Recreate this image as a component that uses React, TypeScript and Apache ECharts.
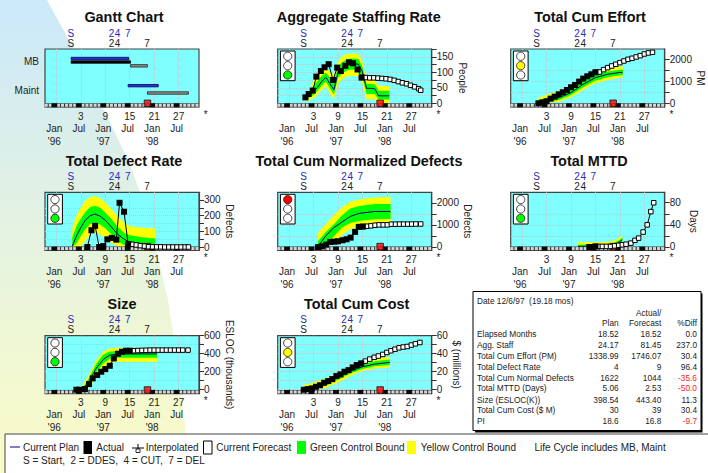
import React, { useEffect, useRef } from "react";
import * as echarts from "echarts";

const FONT = "Liberation Sans";
const TEXT = "#222222";

// ---- shared axis content ----
const numberTicks = [-3, 3, 9, 15, 21, 27];
const numberValues = [3, 9, 15, 21, 27];
const monthValues = [-3.5, 2.5, 8.5, 14.5, 20.5, 26.5];
const monthLabels = ["Jan", "Jul", "Jan", "Jul", "Jan", "Jul"];
const yearValues = [-3.5, 8.5, 20.5];
const yearLabels = ["'96", "'97", "'98"];
const milestoneLabels = ["S", "2", "4", "7"];
const planMilestones = [0.55, 10.5, 12.0, 14.5];
const actualMilestones = [0.55, 10.5, 12.0, 19.25];
const stripCells = [-5.5, -4.5, -2.5, -1.5, -0.5, 0.5, 1.5, 3.5, 4.5, 5.5, 6.5, 7.5, 9.5, 10.5, 11.5, 12.5, 13.5, 15.5, 16.5, 17.5, 18.5, 19.5, 21.5, 22.5, 23.5, 24.5, 25.5, 27.5, 28.5, 29.5, 30.5, 31.5];
const stripBlack = [-3.5, 2.5, 8.5, 14.5, 20.5, 26.5];
const statusMonth = 19.35;

// ---- Gantt ----
const ganttRows = ["MB", "Maint"];
const ganttRowValues = [1.53, 0.49];
const ganttPlan = [[0.62, 14.76, 1.65], [14.6, 22.0, 0.65]];
const ganttActual = [[0.62, 15.2, 1.52]];
const ganttForecast = [[15.2, 19.35, 1.38], [19.35, 29.4, 0.38]];

// ---- Aggregate Staffing Rate ----
const staffBandMonths = [1, 2, 3, 4, 5, 6, 7, 8, 9, 10, 11, 12, 13, 14, 15, 16, 17, 18, 19, 20, 21, 21.6];
const staffPlan = [14, 27, 38, 52, 70, 84, 64, 43, 99, 113, 123, 127, 127, 126, 102, 48, 48, 47, 24, 24, 24, 24];
const staffYellowHi = [25, 43, 75, 91, 105, 113, 102, 91, 134, 150, 159, 160, 160, 159, 134, 75, 75, 74, 56, 56, 56, 56];
const staffGreenHi = [20, 36, 58, 72, 88, 99, 84, 68, 117, 132, 142, 144, 144, 143, 118, 62, 62, 61, 40, 40, 40, 40];
const staffGreenLo = [10, 19, 27, 40, 57, 70, 48, 28, 82, 95, 105, 108, 108, 107, 83, 30, 30, 30, 12, 12, 12, 12];
const staffYellowLo = [5, 11, 16, 29, 43, 56, 32, 13, 64, 77, 86, 88, 88, 88, 64, 13, 13, 13, 0, 0, 0, 0];
const staffActualMonths = [1, 1.8, 2.8, 3.7, 4.8, 5.7, 6.7, 7.8, 8.8, 9.7, 10.8, 11.7, 12.7, 13.8, 14.8];
const staffActual = [19, 30, 41, 86, 104, 116, 126, 75, 115, 104, 121, 132, 129, 109, 83];
const staffForecastMonths = [15.8, 16.8, 17.8, 18.8, 19.8, 20.8, 21.8, 22.8, 23.8, 24.8, 25.8, 26.8, 27.8, 28.8, 29.3];
const staffForecast = [83, 82, 82, 81, 80, 79, 77, 74, 70, 66, 63, 58, 53, 47, 42];

// ---- Total Cum Effort ----
const effortBandMonths = [1, 3, 6, 9, 12, 15, 18, 21, 21.7];
const effortPlan = [30, 121, 258, 485, 864, 1167, 1320, 1400, 1410];
const effortYellowHi = [258, 380, 576, 788, 1182, 1470, 1590, 1667, 1667];
const effortGreenHi = [130, 250, 417, 640, 1025, 1320, 1450, 1530, 1540];
const effortGreenLo = [0, 30, 150, 380, 730, 1020, 1180, 1270, 1280];
const effortYellowLo = [0, 0, 76, 273, 606, 909, 1060, 1167, 1182];
const effortActualMonths = [1, 2, 3, 4, 5, 6, 7, 8, 9, 10, 11, 12, 13, 14, 15];
const effortActual = [0, 45, 91, 212, 303, 409, 500, 606, 727, 833, 985, 1121, 1227, 1318, 1409];
const effortForecastMonths = [16, 17, 18, 19, 20, 21, 22, 23, 24, 25, 26, 27, 28, 29];
const effortForecast = [1424, 1530, 1621, 1697, 1773, 1848, 1924, 2000, 2045, 2106, 2166, 2242, 2288, 2318];

// ---- Total Defect Rate ----
const defectBandMonths = [0.9, 2, 3, 4, 5.2, 6.4, 7.6, 9, 10.5, 12.1, 13.8, 15, 17.4, 21.3];
const defectPlan = [6, 75, 124, 167, 199, 210, 199, 171, 128, 79, 47, 32, 21, 15];
const defectYellowHi = [124, 203, 252, 293, 317, 325, 315, 285, 242, 193, 150, 133, 124, 118];
const defectGreenHi = [60, 139, 182, 220, 253, 263, 253, 220, 178, 128, 86, 75, 64, 54];
const defectGreenLo = [0, 25, 70, 110, 145, 155, 145, 120, 80, 35, 10, 0, 0, 0];
const defectYellowLo = [0, 0, 5, 35, 80, 95, 85, 55, 25, 5, 0, 0, 0, 0];
const defectActualMonths = [4.6, 5.6, 6.5, 7.5, 8.5, 9.5, 10.6, 11.7, 12.5, 13.6, 14.6];
const defectActual = [0, 107, 135, 0, 6, 49, 58, 47, 282, 225, 17];
const defectForecastMonths = [15.6, 16.6, 17.6, 18.6, 19.6, 20.6, 21.6, 22.6, 23.6, 24.6, 25.6, 26.6, 27.6, 28.6, 29.4];
const defectForecast = [17, 13, 9, 6, 2, 1, 1, 1, 0, 0, 0, 0, 0, 0, 0];

// ---- Total Cum Normalized Defects ----
const normBandMonths = [4.1, 6, 8, 10, 12, 14.2, 18, 21.9];
const normPlan = [30, 500, 880, 1130, 1380, 1520, 1606, 1606];
const normYellowHi = [636, 1030, 1439, 1788, 2045, 2151, 2242, 2257];
const normGreenHi = [273, 682, 1030, 1439, 1742, 1848, 1939, 1939];
const normGreenLo = [0, 76, 485, 880, 1090, 1180, 1250, 1260];
const normYellowLo = [0, 0, 150, 550, 800, 950, 1090, 1090];
const normActualMonths = [4.1, 5.1, 6.1, 7.1, 8.1, 9, 10.1, 11.1, 12.1, 13.2, 14.1, 15.1];
const normActual = [0, 30, 106, 227, 242, 258, 303, 348, 424, 682, 909, 924];
const normForecastMonths = [16.1, 17.1, 18.1, 19.1, 20.1, 21.1, 22.1, 23.1, 24.1, 25.1, 26.1, 27.1, 28.1, 29.3];
const normForecast = [939, 955, 985, 1000, 1000, 1000, 1030, 1030, 1035, 1035, 1035, 1035, 1040, 1040];

// ---- Total MTTD ----
const mttdBandMonths = [10.7, 16.9, 19.3, 20.5, 21.6];
const mttdPlan = [1, 2, 4, 7, 13];
const mttdYellowHi = [8.5, 8.5, 11, 15, 20];
const mttdGreenHi = [4, 5, 7, 11, 17];
const mttdGreenLo = [0, 0, 0, 1, 3];
const mttdYellowLo = [0, 0, 0, 0, 0];
const mttdActualMonths = [13.5, 14.2, 15];
const mttdActual = [0, 0, 1];
const mttdForecastMonths = [15.7, 16.7, 17.7, 18.7, 19.7, 20.7, 21.6, 22.5, 23.7, 24.7, 25.6, 26.7, 27.7, 28.6, 29.3];
const mttdForecast = [1, 1, 1, 1, 2, 3, 4, 5, 7, 12, 16, 27, 40, 64, 80];

// ---- Size ----
const sizeBandMonths = [3.4, 5, 6.8, 8.5, 10.1, 12.1, 15, 21.7];
const sizePlan = [0, 90, 240, 335, 385, 395, 397, 398];
const sizeYellowHi = [52, 163, 329, 422, 459, 466, 466, 466];
const sizeGreenHi = [20, 130, 290, 390, 425, 430, 425, 420];
const sizeGreenLo = [0, 60, 195, 290, 345, 355, 355, 355];
const sizeYellowLo = [0, 20, 150, 250, 300, 311, 311, 311];
const sizeActualMonths = [1.9, 2.6, 4, 5, 5.9, 7, 8, 9, 10.1, 11.1, 12.1, 13.1, 14.1, 15];
const sizeActual = [0, 0, 7, 63, 126, 163, 200, 229, 266, 348, 400, 422, 433, 433];
const sizeForecastMonths = [16, 17, 18, 19, 20, 21, 22, 23, 24, 25, 26, 27, 28, 29.3];
const sizeForecast = [433, 435, 437, 438, 440, 440, 440, 440, 440, 440, 440, 440, 440, 440];

// ---- Total Cum Cost ----
const costBandMonths = [0.6, 3, 6, 9, 12, 15, 18, 21.7];
const costPlan = [0.7, 2.6, 7, 13.7, 20.7, 25.5, 28.5, 30.3];
const costYellowHi = [5.2, 7.8, 12.6, 18.9, 25.5, 31, 34.8, 36.6];
const costGreenHi = [2, 5, 9.6, 16, 23, 28, 31.5, 33.5];
const costGreenLo = [0, 0.5, 4.5, 11, 18, 23, 26, 27.5];
const costYellowLo = [0, 0, 2, 8, 15, 21, 23.5, 24.7];
const costActualMonths = [0.6, 1.6, 2.6, 3.6, 4.6, 5.6, 6.6, 7.6, 8.6, 9.6, 10.6, 11.6, 12.6, 13.6, 14.7];
const costActual = [0, 0.7, 1.5, 3.3, 5, 7.8, 9.6, 11.8, 15.2, 17, 20, 21.8, 24.8, 27.4, 29.2];
const costForecastMonths = [15.7, 16.8, 17.9, 18.9, 20, 21, 22, 23, 24, 25, 26, 27, 28, 29.1];
const costForecast = [31.8, 34, 36, 37.4, 39.2, 41.4, 43.3, 45, 46.6, 47.4, 48, 49.6, 51, 52.5];

// ---- Status table ----
const tableLabels = ["Elapsed Months", "Agg. Staff", "Total Cum Effort (PM)", "Total Defect Rate", "Total Cum Normal Defects", "Total MTTD (Days)", "Size (ESLOC(K))", "Total Cum Cost ($ M)", "PI"];
const tablePlan = ["18.52", "24.17", "1338.99", "4", "1622", "5.06", "398.54", "30", "18.6"];
const tableForecast = ["18.52", "81.45", "1746.07", "9", "1044", "2.53", "443.40", "39", "16.8"];
const tableDiff = ["0.0", "237.0", "30.4", "96.4", "-35.6", "-50.0", "11.3", "30.4", "-9.7"];
const tableRowY = [334.3, 345, 356, 367, 378, 388.3, 400, 410.3, 421];

const PLOT_W = 154;
const PLOT_H = 58;
const X_MIN = -5.8;
const X_MAX = 32;
const COLS = [45, 277.7, 510.7];
const ROWS = [49, 192.3, 335.7];

const chartPanels = [
  { title: "Aggregate Staffing Rate", cx: 358.7, col: 1, row: 0, min: -12, max: 175, ticks: [0, 25, 50, 75, 100, 125, 150, 175], labels: [0, 50, 100, 150], name: "People", gap: 20, light: 2,
    months: staffBandMonths, plan: staffPlan, yHi: staffYellowHi, gHi: staffGreenHi, gLo: staffGreenLo, yLo: staffYellowLo, aM: staffActualMonths, a: staffActual, fM: staffForecastMonths, f: staffForecast },
  { title: "Total Cum Effort", cx: 590, col: 2, row: 0, min: -168, max: 2468, ticks: [0, 500, 1000, 1500, 2000], labels: [0, 1000, 2000], name: "PM", gap: 23, light: 1,
    months: effortBandMonths, plan: effortPlan, yHi: effortYellowHi, gHi: effortGreenHi, gLo: effortGreenLo, yLo: effortYellowLo, aM: effortActualMonths, a: effortActual, fM: effortForecastMonths, f: effortForecast },
  { title: "Total Defect Rate", cx: 124, col: 0, row: 1, min: -21, max: 349, ticks: [0, 50, 100, 150, 200, 250, 300], labels: [0, 100, 200, 300], name: "Defects", gap: 21, light: 2,
    months: defectBandMonths, plan: defectPlan, yHi: defectYellowHi, gHi: defectGreenHi, gLo: defectGreenLo, yLo: defectYellowLo, aM: defectActualMonths, a: defectActual, fM: defectForecastMonths, f: defectForecast },
  { title: "Total Cum Normalized Defects", cx: 359, col: 1, row: 1, min: -150, max: 2473, ticks: [0, 500, 1000, 1500, 2000], labels: [0, 1000, 2000], name: "Defects", gap: 27, light: 0,
    months: normBandMonths, plan: normPlan, yHi: normYellowHi, gHi: normGreenHi, gLo: normGreenLo, yLo: normYellowLo, aM: normActualMonths, a: normActual, fM: normForecastMonths, f: normForecast },
  { title: "Total MTTD", cx: 589, col: 2, row: 1, min: -6, max: 98.9, ticks: [0, 20, 40, 60, 80], labels: [0, 40, 80], name: "Days", gap: 24, light: 2,
    months: mttdBandMonths, plan: mttdPlan, yHi: mttdYellowHi, gHi: mttdGreenHi, gLo: mttdGreenLo, yLo: mttdYellowLo, aM: mttdActualMonths, a: mttdActual, fM: mttdForecastMonths, f: mttdForecast },
  { title: "Size", cx: 122, col: 0, row: 2, min: -44, max: 600, ticks: [0, 100, 200, 300, 400, 500, 600], labels: [0, 200, 400, 600], name: "ESLOC (thousands)", gap: 20, light: 2,
    months: sizeBandMonths, plan: sizePlan, yHi: sizeYellowHi, gHi: sizeGreenHi, gLo: sizeGreenLo, yLo: sizeYellowLo, aM: sizeActualMonths, a: sizeActual, fM: sizeForecastMonths, f: sizeForecast },
  { title: "Total Cum Cost", cx: 356.7, col: 1, row: 2, min: -4.4, max: 60, ticks: [0, 10, 20, 30, 40, 50, 60], labels: [0, 20, 40, 60], name: "$ (millions)", gap: 15, light: 1,
    months: costBandMonths, plan: costPlan, yHi: costYellowHi, gHi: costGreenHi, gLo: costGreenLo, yLo: costYellowLo, aM: costActualMonths, a: costActual, fM: costForecastMonths, f: costForecast },
];

const pts = (xs: number[], ys: number[]) => xs.map((x, i) => [x, ys[i]]);

function textStyle(size = 10, color = TEXT) {
  return { fontFamily: FONT, fontSize: size, color };
}

function buildOption() {
  const grid: any[] = [];
  const xAxis: any[] = [];
  const yAxis: any[] = [];
  const series: any[] = [];
  const title: any[] = [];
  const graphic: any[] = [];

  const gt = (x: number, y: number, text: string, align = "left", size = 10, fill = TEXT, weight = "normal") => ({
    type: "text", x, y, z: 60,
    style: { text, fill, fontFamily: FONT, fontSize: size, fontWeight: weight, textAlign: align, textVerticalAlign: "middle" },
  });
  const titleOf = (text: string, cx: number, top: number) => ({
    text, left: cx, top: top - 38.6, padding: 0, textAlign: "center",
    textStyle: { fontFamily: FONT, fontSize: 14.4, fontWeight: "bold", color: "#111" },
  });
  const gridLine = { show: true, showMaxLine: false, lineStyle: { type: "dotted", color: "#c9c4c4", width: 1 } };

  // page background wedge
  graphic.push({
    type: "polygon", z: -10, silent: true,
    shape: { points: [[0, 0], [47, 0], [85, 70], [128, 160], [143, 200], [157, 253], [168, 300], [174, 340], [181, 390], [185, 425], [186, 473], [0, 473]] },
    style: { fill: new echarts.graphic.LinearGradient(0, 0, 0, 1, [
      { offset: 0, color: "#cbe9fa" }, { offset: 0.33, color: "#dcefe9" }, { offset: 0.66, color: "#ecf6d8" }, { offset: 1, color: "#fafbc6" },
    ]) },
  });

  const addFrame = (i: number, col: number, row: number, yCfg: any) => {
    const left = COLS[col];
    const top = ROWS[row];
    grid.push({ left, top, width: PLOT_W, height: PLOT_H, show: true, backgroundColor: "#80ffff", borderColor: "#444444", borderWidth: 1.2, z: 0 });
    const xBase = { gridIndex: i, type: "value", min: X_MIN, max: X_MAX, splitLine: { show: false }, axisLine: { show: false }, axisTick: { show: false } };
    const rowAxis = (position: string, values: number[], labels: string[], margin: number, offset: number, color = TEXT) => ({
      ...xBase, position, offset,
      axisLabel: { customValues: values, margin, formatter: (v: number) => labels[values.indexOf(v)] ?? "", ...textStyle(10, color) },
    });
    xAxis.push({
      ...xBase, position: "bottom",
      axisTick: { show: true, customValues: numberTicks, length: 3, lineStyle: { color: "#333", width: 1 } },
      splitLine: { show: true, lineStyle: { type: "dotted", color: "#c9c4c4", width: 1 } },
      axisLabel: { customValues: numberValues, margin: 4, formatter: (v: number) => String(v), ...textStyle() },
    });
    xAxis.push(rowAxis("bottom", monthValues, monthLabels, 4, 12));
    xAxis.push(rowAxis("bottom", yearValues, yearLabels, 4, 25));
    xAxis.push(rowAxis("top", planMilestones, milestoneLabels, 1, 10, "#2a2ab4"));
    xAxis.push(rowAxis("top", actualMilestones, milestoneLabels, 1, 0));
    yAxis.push(yCfg);
    yAxis.push({ gridIndex: i, type: "value", show: false, min: 0, max: 1, splitLine: { show: false } });

    const xi = i * 5;
    const yi = i * 2;
    return { xi, yi, left, top };
  };

  const addStrip = (xi: number, yStrip: number) => {
    const common = { xAxisIndex: xi, yAxisIndex: yStrip, silent: true, animation: false };
    series.push({ ...common, type: "line", data: [[X_MIN, 0.03], [X_MAX, 0.03]], symbol: "none", lineStyle: { color: "#333", width: 4 }, z: 6 });
    series.push({ ...common, type: "scatter", data: stripCells.map((c) => [c, 0.03]), symbol: "rect", symbolSize: 3, itemStyle: { color: "#fff" }, z: 7 });
    series.push({ ...common, type: "scatter", data: stripBlack.map((c) => [c, 0.03]), symbol: "rect", symbolSize: [6, 4], itemStyle: { color: "#000" }, z: 7 });
    series.push({ ...common, type: "scatter", data: [[statusMonth, 0.064]], symbol: "rect", symbolSize: 6.5, itemStyle: { color: "#ff0000", borderColor: "#111", borderWidth: 1 }, z: 8 });
  };

  // Gantt
  const g = addFrame(0, 0, 0, {
    gridIndex: 0, type: "value", position: "left", min: -0.136, max: 2,
    axisLine: { show: false },
    axisTick: { show: false, customValues: [1] },
    splitLine: gridLine,
    axisLabel: { customValues: ganttRowValues, margin: 6, formatter: (v: number) => ganttRows[ganttRowValues.indexOf(v)] ?? "", ...textStyle() },
  });
  title.push(titleOf("Gantt Chart", 124, ROWS[0]));
  const ganttSeries = (data: number[][], fill: string, stroke: string) => ({
    type: "custom", xAxisIndex: g.xi, yAxisIndex: g.yi, silent: true, z: 4, data,
    renderItem: (_p: any, api: any) => {
      const a = api.coord([api.value(0), api.value(2)]);
      const b = api.coord([api.value(1), api.value(2)]);
      return { type: "rect", shape: { x: a[0], y: a[1] - 1.2, width: b[0] - a[0], height: 2.4 }, style: { fill, stroke, lineWidth: 0.8 } };
    },
    encode: { x: [0, 1], y: 2 },
  });
  series.push(ganttSeries(ganttPlan, "#3030d0", "#000060"));
  series.push(ganttSeries(ganttActual, "#000000", "#000000"));
  series.push(ganttSeries(ganttForecast, "#909090", "#222222"));
  addStrip(g.xi, g.yi + 1);
  graphic.push(gt(COLS[0] + PLOT_W + 4.7, ROWS[0] + 65, "*"));

  // metric panels
  chartPanels.forEach((p, n) => {
    const i = n + 1;
    const { xi, yi, left, top } = addFrame(i, p.col, p.row, {
      gridIndex: i, type: "value", position: "right", min: p.min, max: p.max,
      name: p.name, nameLocation: "middle", nameRotate: -90, nameGap: p.gap,
      nameTextStyle: textStyle(),
      axisLine: { show: true, onZero: false, lineStyle: { color: "#444", width: 1.2 } },
      axisTick: { show: true, customValues: p.ticks, length: 5, lineStyle: { color: "#333", width: 1 } },
      splitLine: gridLine,
      axisLabel: { customValues: p.labels, margin: 5, formatter: (v: number) => String(v), ...textStyle() },
    });
    title.push(titleOf(p.title, p.cx, top));

    const band = (lo: number[], hi: number[], fill: string, z: number) => ({
      type: "custom", xAxisIndex: xi, yAxisIndex: yi, silent: true, z,
      data: p.months.map((m: number, k: number) => [m, lo[k], hi[k]]),
      encode: { x: 0, y: [1, 2] },
      renderItem: (params: any, api: any) => {
        if (params.dataIndex !== 0) return null;
        const upper = p.months.map((m: number, k: number) => api.coord([m, hi[k]]));
        const lower = p.months.map((m: number, k: number) => api.coord([m, lo[k]])).reverse();
        return { type: "polygon", shape: { points: upper.concat(lower) }, style: { fill } };
      },
    });
    series.push(band(p.yLo, p.yHi, "#ffff00", 2));
    series.push(band(p.gLo, p.gHi, "#00ff00", 3));
    series.push({ type: "line", xAxisIndex: xi, yAxisIndex: yi, silent: true, z: 4, symbol: "none", data: pts(p.months, p.plan), lineStyle: { color: "#000080", width: 1 } });
    const lastA = [p.aM[p.aM.length - 1], p.a[p.a.length - 1]];
    addStrip(xi, yi + 1);
    series.push({ type: "line", xAxisIndex: xi, yAxisIndex: yi, silent: true, z: 9, data: [lastA, ...pts(p.fM, p.f)], symbol: "rect", symbolSize: 4.5, itemStyle: { color: "#fff", borderColor: "#000", borderWidth: 1 }, lineStyle: { color: "#000", width: 1 } });
    series.push({ type: "line", xAxisIndex: xi, yAxisIndex: yi, silent: true, z: 10, data: pts(p.aM, p.a), symbol: "rect", symbolSize: 6, itemStyle: { color: "#000" }, lineStyle: { color: "#000", width: 1 } });

    graphic.push(gt(left + PLOT_W + 4.7, top + 65, "*"));
    graphic.push({ type: "rect", z: 50, silent: true, shape: { x: left + 2.7, y: top + 2, width: 14.7, height: 29.7 }, style: { fill: "#fff", stroke: "#000", lineWidth: 1 } });
    [7.3, 16.7, 26].forEach((dy, k) => {
      const on = k === p.light;
      const color = on ? ["#ff0000", "#ffff00", "#00ff00"][k] : "#ffffff";
      graphic.push({ type: "circle", z: 51, silent: true, shape: { cx: left + 10, cy: top + dy, r: 4.1 }, style: { fill: color, stroke: "#111", lineWidth: 0.8 } });
    });
  });

  // status table
  graphic.push({ type: "rect", z: 40, silent: true, shape: { x: 475, y: 293.5, width: 227.5, height: 139 }, style: { fill: "#000" } });
  graphic.push({ type: "rect", z: 41, silent: true, shape: { x: 473, y: 291.5, width: 228, height: 139 }, style: { fill: "#fff", stroke: "#000", lineWidth: 1 } });
  const T = 8.3;
  graphic.push(gt(477, 301.3, "Date 12/6/97  (19.18 mos)", "left", T));
  graphic.push(gt(661.3, 312.7, "Actual/", "right", T));
  graphic.push(gt(618.7, 323.3, "Plan", "right", T));
  graphic.push(gt(661.3, 323.3, "Forecast", "right", T));
  graphic.push(gt(697, 323.3, "%Diff", "right", T));
  tableLabels.forEach((label, k) => {
    const y = tableRowY[k];
    graphic.push(gt(477, y, label, "left", T));
    graphic.push(gt(618.7, y, tablePlan[k], "right", T));
    graphic.push(gt(661.3, y, tableForecast[k], "right", T));
    graphic.push(gt(697, y, tableDiff[k], "right", T, tableDiff[k].startsWith("-") ? "#ff2020" : TEXT));
  });

  // footer legend
  graphic.push({ type: "rect", z: 30, silent: true, shape: { x: 5, y: 434, width: 710, height: 50 }, style: { fill: "#fff", stroke: "#444", lineWidth: 1 } });
  graphic.push({ type: "line", z: 31, silent: true, shape: { x1: 10, y1: 447, x2: 20, y2: 447 }, style: { stroke: "#000080", lineWidth: 1 } });
  graphic.push(gt(23, 447, "Current Plan"));
  graphic.push({ type: "rect", z: 31, silent: true, shape: { x: 83.5, y: 441, width: 8.5, height: 13 }, style: { fill: "#000" } });
  graphic.push(gt(96.3, 447, "Actual"));
  graphic.push({ type: "line", z: 31, silent: true, shape: { x1: 132, y1: 448, x2: 144, y2: 448 }, style: { stroke: "#000", lineWidth: 1 } });
  graphic.push({ type: "line", z: 31, silent: true, shape: { x1: 138, y1: 444, x2: 138, y2: 453 }, style: { stroke: "#000", lineWidth: 1 } });
  graphic.push({ type: "rect", z: 32, silent: true, shape: { x: 136, y: 449, width: 4, height: 3.5 }, style: { fill: "#fff", stroke: "#000", lineWidth: 0.8 } });
  graphic.push(gt(145.7, 447, "Interpolated"));
  graphic.push({ type: "rect", z: 31, silent: true, shape: { x: 203.5, y: 441, width: 8.5, height: 13 }, style: { fill: "#fff", stroke: "#000", lineWidth: 1 } });
  graphic.push(gt(216.3, 447, "Current Forecast"));
  graphic.push({ type: "rect", z: 31, silent: true, shape: { x: 297, y: 441, width: 9, height: 13 }, style: { fill: "#00ff00" } });
  graphic.push(gt(310, 447, "Green Control Bound"));
  graphic.push({ type: "rect", z: 31, silent: true, shape: { x: 407, y: 441, width: 9, height: 13 }, style: { fill: "#ffff00" } });
  graphic.push(gt(420.7, 447, "Yellow Control Bound"));
  graphic.push(gt(534.5, 447, "Life Cycle includes MB, Maint"));
  graphic.push(gt(23, 460, "S = Start,  2 = DDES,  4 = CUT,  7 = DEL"));

  return { animation: false, backgroundColor: "#ffffff", title, grid, xAxis, yAxis, series, graphic: { elements: graphic } };
}

export default function App() {
  const ref = useRef<HTMLDivElement>(null);
  useEffect(() => {
    document.body.style.margin = "0";
    const chart = echarts.init(ref.current!, null, { renderer: "svg" });
    chart.setOption(buildOption() as any);
    return () => chart.dispose();
  }, []);
  return <div ref={ref} style={{ width: 708, height: 473 }} />;
}
